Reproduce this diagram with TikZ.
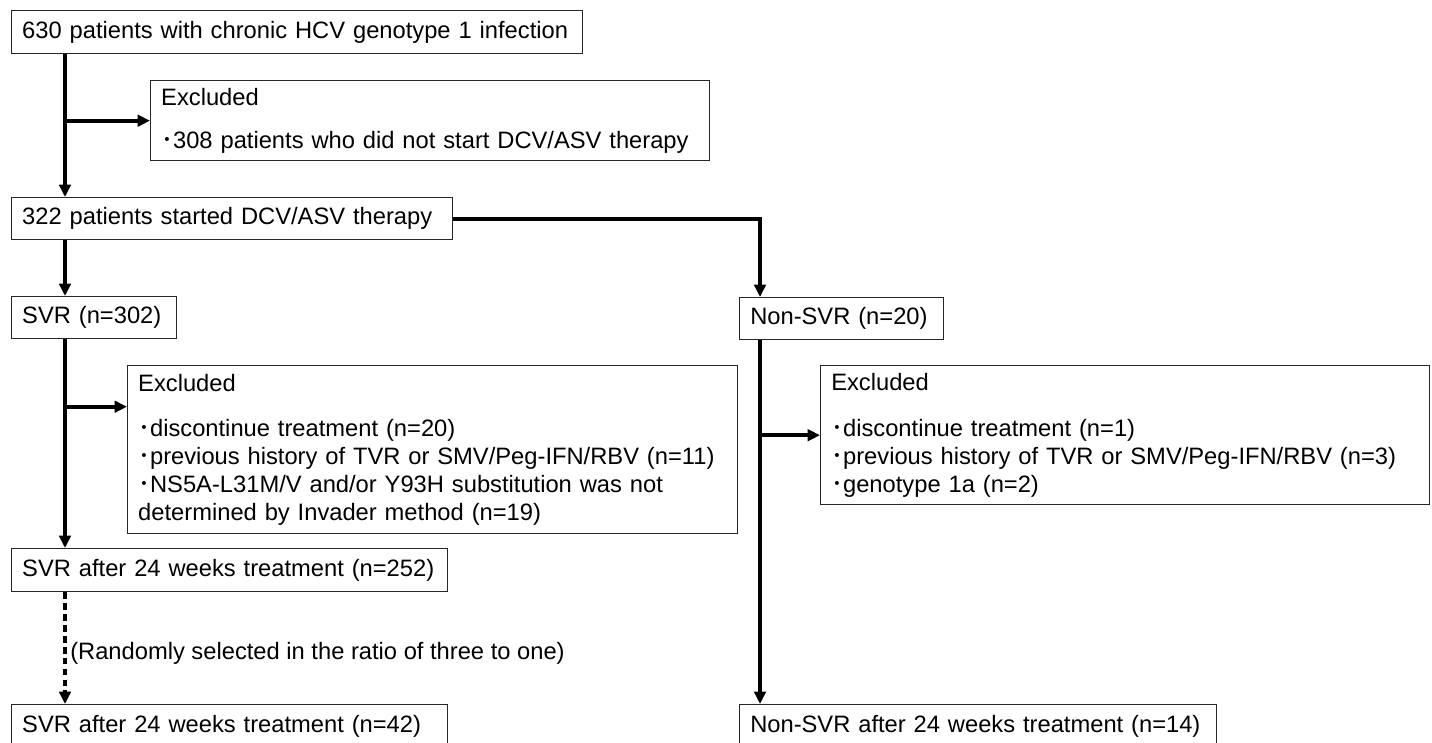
\documentclass[tikz,border=0pt]{standalone}
\usepackage{fontspec}
\setmainfont{Liberation Sans}
\newfontfamily\cjk{Noto Sans CJK JP}
\usetikzlibrary{arrows.meta,positioning}
\newcommand{\bul}{{\cjk ･}}
\tikzset{
    box/.style={% framed box, text set from the left
        draw=black!85, line width=0.8pt, rectangle, anchor=north west,
        inner xsep=6pt, inner ysep=0pt, align=left},
    conn/.style={% thick connector with a filled head
        line width=2.2pt, -{Triangle[length=7pt,width=6.5pt]}},
    dotconn/.style={% the sampling step
        conn, line width=2pt, dash pattern=on 3.8pt off 2.4pt}
}

\begin{document}
\begin{tikzpicture}[x=0.02cm, y=-0.02cm, font=\fontsize{13.5}{15.9}\selectfont]
\useasboundingbox (0,0) rectangle (1432,743);
\clip (0,0) rectangle (1432,743);
% the two trunks
\coordinate (trunk) at (65,0);
\coordinate (rtrunk) at (760,0);
% left column
\node[box, text width=11.0cm, minimum height=0.86cm] (all) at (11,10) {630 patients with chronic HCV genotype 1 infection};
\node[box, text width=10.76cm, minimum height=1.6cm] (exA) at (150,80) {Excluded\\[8.5pt]\bul308 patients who did not start DCV/ASV therapy};
\node[box, text width=8.4cm, minimum height=0.84cm] (start) at (11,197) {322 patients started DCV/ASV therapy};
\node[box, text width=2.88cm, minimum height=0.84cm] (svr) at (11,296) {SVR (n=302)};
\node[box, text width=11.78cm, minimum height=3.36cm] (exB) at (127,365) {Excluded\\[10pt]\bul discontinue treatment (n=20)\\
    \bul previous history of TVR or SMV/Peg-IFN/RBV (n=11)\\
    \bul NS5A-L31M/V and/or Y93H substitution was not\\
    determined by Invader method (n=19)};
\node[box, text width=8.3cm, minimum height=0.86cm] (svrA) at (11,548) {SVR after 24 weeks treatment (n=252)};
\node[box, text width=8.3cm, minimum height=0.86cm] (svrB) at (11,704) {SVR after 24 weeks treatment (n=42)};
% right column
\node[box, text width=3.66cm, minimum height=0.84cm] (non) at (739,297) {Non-SVR (n=20)};
\node[box, text width=11.76cm, minimum height=2.78cm] (exC) at (820,365) {Excluded\\[10pt]\bul discontinue treatment (n=1)\\
    \bul previous history of TVR or SMV/Peg-IFN/RBV (n=3)\\
    \bul genotype 1a (n=2)};
\node[box, text width=9.12cm, minimum height=0.86cm] (nonB) at (739,704) {Non-SVR after 24 weeks treatment (n=14)};
% connectors
\draw[conn] (all.south -| trunk) -- (start.north -| trunk);
\draw[conn] (trunk |- exA.west) -- (exA.west);
\draw[conn] (start.south -| trunk) -- (svr.north -| trunk);
\draw[conn] (start.east) -| (non.north -| rtrunk);
\draw[conn] (svr.south -| trunk) -- (svrA.north -| trunk);
\draw[conn] (trunk |- exB.172) -- (exB.172);
\draw[conn] (non.south -| rtrunk) -- (nonB.north -| rtrunk);
\draw[conn] (rtrunk |- exC.west) -- (exC.west);
\draw[dotconn] (svrA.south -| trunk) -- node[pos=0.55, right, inner xsep=2pt] {(Randomly selected in the ratio of three to one)} (svrB.north -| trunk);
\end{tikzpicture}
\end{document}
